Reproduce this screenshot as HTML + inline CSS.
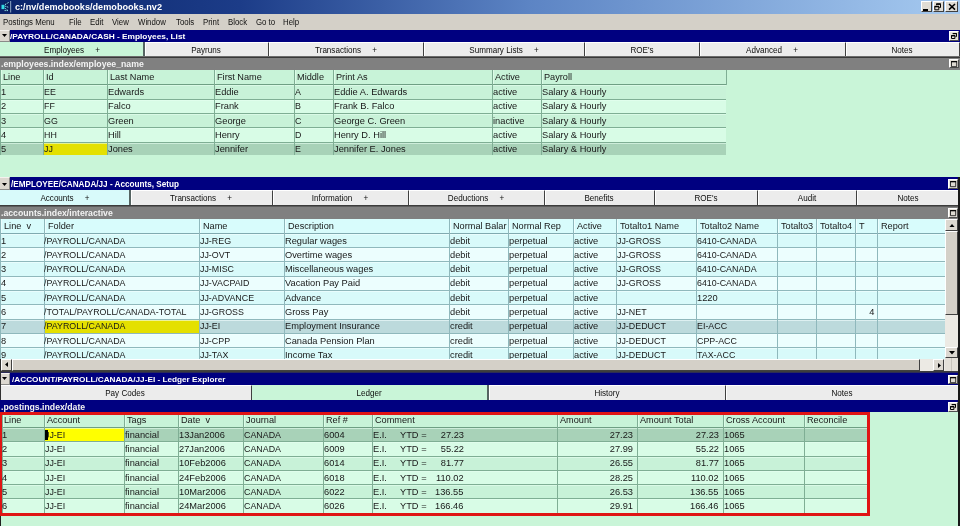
<!DOCTYPE html><html><head><meta charset="utf-8"><title>demobooks</title><style>
*{margin:0;padding:0;box-sizing:border-box}
html,body{width:960px;height:526px;overflow:hidden;background:#c9f5d8;font-family:"Liberation Sans",sans-serif;color:#181818}
div{position:absolute;overflow:hidden}
i{position:absolute;font-style:normal;white-space:pre;line-height:1;display:block}
.wb{background:#d4d0c8;border-top:1px solid #fff;border-left:1px solid #fff;border-right:1px solid #404040;border-bottom:1px solid #404040}
.t-title{font-size:8.7px;font-weight:bold;transform:scaleX(1.05);transform-origin:0 0}
.t-title.rt{transform-origin:100% 0}
.t-title.ct{transform-origin:50% 0}
.t-menu{font-size:9.6px;font-weight:normal;transform:scaleX(0.815);transform-origin:0 0}
.t-menu.rt{transform-origin:100% 0}
.t-menu.ct{transform-origin:50% 0}
.t-nav{font-size:7.9px;font-weight:bold;transform:scaleX(1.04);transform-origin:0 0}
.t-nav.rt{transform-origin:100% 0}
.t-nav.ct{transform-origin:50% 0}
.t-idx{font-size:8.8px;font-weight:bold;transform:scaleX(0.99);transform-origin:0 0}
.t-idx.rt{transform-origin:100% 0}
.t-idx.ct{transform-origin:50% 0}
.t-tab{font-size:8.6px;font-weight:normal;transform:scaleX(0.94);transform-origin:0 0}
.t-tab.rt{transform-origin:100% 0}
.t-tab.ct{transform-origin:50% 0}
.t-cell{font-size:9.6px;font-weight:normal;transform:scaleX(0.967);transform-origin:0 0}
.t-cell.rt{transform-origin:100% 0}
.t-cell.ct{transform-origin:50% 0}
.t-caps{font-size:9.6px;font-weight:normal;transform:scaleX(0.925);transform-origin:0 0}
.t-caps.rt{transform-origin:100% 0}
.t-caps.ct{transform-origin:50% 0}
.t-hdr{font-size:9.6px;font-weight:normal;transform:scaleX(0.955);transform-origin:0 0}
.t-hdr.rt{transform-origin:100% 0}
.t-hdr.ct{transform-origin:50% 0}
</style></head><body><div id="root" style="left:0;top:0;width:960px;height:526px;will-change:transform">
<div style="left:0;top:0;width:960px;height:14px;background:linear-gradient(90deg,#0a246a 0%,#1c3c88 25%,#5c84c4 55%,#a6caf0 100%)"></div>
<svg style="position:absolute;left:0px;top:0px" width="13" height="14" viewBox="0 0 13 14"><rect x="4.4" y="2" width="5.4" height="9.6" fill="#0a1c58"/><rect x="1.5" y="4.8" width="3" height="4.3" fill="#34dce4"/><path d="M5 4.6L9 2.2M5.2 6.2l3.6 1.2M5.2 8.4l3.2 2.4M4.6 10.6h4" stroke="#9af4f4" stroke-width="1" fill="none" stroke-dasharray="1.2 0.8"/><path d="M10.6 1.4v10.8" stroke="#e8ffff" stroke-width="1.2" stroke-dasharray="1 1" fill="none"/></svg>
<i class="t-title" style="top:3.44px;left:15px;color:#fff;">c:/nv/demobooks/demobooks.nv2</i>
<div class="wb" style="left:921px;top:1px;width:11px;height:11px;background:#e0dcd4"></div>
<div class="wb" style="left:933px;top:1px;width:11px;height:11px;background:#e0dcd4"></div>
<div class="wb" style="left:945px;top:1px;width:13px;height:11px;background:#e0dcd4"></div>
<div style="left:923px;top:9px;width:5px;height:1.5px;background:#000"></div>
<svg style="position:absolute;left:934px;top:3px" width="8" height="8" viewBox="0 0 8 8"><path d="M2.5 1.2h4v3.3h-1.2M2.5 1.2v1" stroke="#000" stroke-width="1" fill="none"/><path d="M2.2 1h4.6" stroke="#000" stroke-width="1.4"/><path d="M0.8 3.6h4v3.2h-4z" stroke="#000" stroke-width="1" fill="none"/><path d="M0.5 3.5h4.6" stroke="#000" stroke-width="1.4"/></svg>
<svg style="position:absolute;left:948px;top:3px" width="8" height="8" viewBox="0 0 8 8"><path d="M1 1l6 5.6M7 1l-6 5.6" stroke="#000" stroke-width="1.5" fill="none"/></svg>
<div style="left:0;top:14px;width:960px;height:16px;background:#d4d0c8"></div>
<i class="t-menu" style="top:17.07px;left:3.4px;color:#111;">Postings Menu</i>
<i class="t-menu" style="top:17.07px;left:69px;color:#111;">File</i>
<i class="t-menu" style="top:17.07px;left:89.5px;color:#111;">Edit</i>
<i class="t-menu" style="top:17.07px;left:112px;color:#111;">View</i>
<i class="t-menu" style="top:17.07px;left:138px;color:#111;">Window</i>
<i class="t-menu" style="top:17.07px;left:176px;color:#111;">Tools</i>
<i class="t-menu" style="top:17.07px;left:202.5px;color:#111;">Print</i>
<i class="t-menu" style="top:17.07px;left:228px;color:#111;">Block</i>
<i class="t-menu" style="top:17.07px;left:256px;color:#111;">Go to</i>
<i class="t-menu" style="top:17.07px;left:283px;color:#111;">Help</i>
<div style="left:0;top:30px;width:960px;height:12px;background:#000080"></div>
<div style="left:0;top:30px;width:9.5px;height:12px;background:#dcd8d0;border-top:1px solid #f4f2ee;border-right:1px solid #8a8a88;border-bottom:1px solid #8a8a88"></div>
<svg style="position:absolute;left:2px;top:34px" width="5" height="3" viewBox="0 0 5 3"><path d="M0 0h5l-2.5 3z" fill="#000"/></svg>
<i class="t-nav" style="top:32.91px;left:9.6px;color:#fff;transform:scaleX(1.052);">/PAYROLL/CANADA/CASH - Employees, List</i>
<div class="wb" style="left:949px;top:31px;width:10px;height:10px;background:#e6e2da;border-right-color:#505050;border-bottom-color:#505050"></div>
<svg style="position:absolute;left:951px;top:33px" width="6" height="6" viewBox="0 0 6 6"><path d="M2 0.6h3.5v3h-1" stroke="#000" stroke-width="1" fill="none"/><path d="M1.6 0.5h4.2" stroke="#000" stroke-width="1.2"/><path d="M0.5 2.8h3.4v2.7h-3.4z" stroke="#000" stroke-width="1" fill="none"/><path d="M0.2 2.6h4" stroke="#000" stroke-width="1.2"/></svg>
<div style="left:0px;top:42px;width:145px;height:15px;background:#c9f5d8;border-right:2px solid #566462"></div>
<i class="t-tab ct" style="top:45.72px;left:-78.4px;width:300px;text-align:center;color:#0c0c0c;">Employees     +</i>
<div style="left:145px;top:42px;width:124px;height:15px;background:#ececec;border-top:1px solid #fff;border-left:1px solid #fff;border-right:1px solid #404040"></div>
<i class="t-tab ct" style="top:45.72px;left:56.099999999999994px;width:300px;text-align:center;color:#0c0c0c;">Payruns</i>
<div style="left:269px;top:42px;width:155px;height:15px;background:#ececec;border-top:1px solid #fff;border-left:1px solid #fff;border-right:1px solid #404040"></div>
<i class="t-tab ct" style="top:45.72px;left:195.60000000000002px;width:300px;text-align:center;color:#0c0c0c;">Transactions     +</i>
<div style="left:424px;top:42px;width:161px;height:15px;background:#ececec;border-top:1px solid #fff;border-left:1px solid #fff;border-right:1px solid #404040"></div>
<i class="t-tab ct" style="top:45.72px;left:353.6px;width:300px;text-align:center;color:#0c0c0c;">Summary Lists     +</i>
<div style="left:585px;top:42px;width:115px;height:15px;background:#ececec;border-top:1px solid #fff;border-left:1px solid #fff;border-right:1px solid #404040"></div>
<i class="t-tab ct" style="top:45.72px;left:491.6px;width:300px;text-align:center;color:#0c0c0c;">ROE's</i>
<div style="left:700px;top:42px;width:146px;height:15px;background:#ececec;border-top:1px solid #fff;border-left:1px solid #fff;border-right:1px solid #404040"></div>
<i class="t-tab ct" style="top:45.72px;left:622.1px;width:300px;text-align:center;color:#0c0c0c;">Advanced     +</i>
<div style="left:846px;top:42px;width:114px;height:15px;background:#ececec;border-top:1px solid #fff;border-left:1px solid #fff;border-right:1px solid #404040"></div>
<i class="t-tab ct" style="top:45.72px;left:752.1px;width:300px;text-align:center;color:#0c0c0c;">Notes</i>
<div style="left:0;top:56px;width:960px;height:14px;background:#808080"></div>
<div style="left:0;top:56px;width:960px;height:1px;background:#6c6c6c"></div>
<div style="left:0;top:57px;width:960px;height:1px;background:#383838"></div>
<i class="t-idx" style="top:59.95px;left:0.6px;color:#f2f2f2;">.employees.index/employee_name</i>
<div class="wb" style="left:949px;top:59px;width:10px;height:9px;background:#e6e2da;border-right-color:#505050;border-bottom-color:#505050"></div>
<svg style="position:absolute;left:950.5px;top:60.5px" width="7" height="7" viewBox="0 0 7 7"><path d="M0.5 0.5h5.2v5.2h-5.2z" stroke="#111" stroke-width="0.85" fill="#dedad2"/><path d="M0.1 0.7h6" stroke="#000" stroke-width="1.2"/></svg>
<div style="left:0px;top:70px;width:726px;height:14.3px;background:#c8f3d8"></div>
<div style="left:0px;top:84px;width:726px;height:15px;background:#c8f2d8"></div>
<div style="left:0px;top:99px;width:726px;height:14px;background:#d8fce6"></div>
<div style="left:0px;top:113px;width:726px;height:14px;background:#c8f2d8"></div>
<div style="left:0px;top:127px;width:726px;height:15px;background:#d8fce6"></div>
<div style="left:0px;top:142px;width:726px;height:13px;background:#a8d2b8"></div>
<div style="left:43px;top:142px;width:64px;height:13px;background:#e4e000"></div>
<div style="left:0px;top:84px;width:726px;height:1px;background:#6f9f84"></div>
<div style="left:0px;top:85px;width:726px;height:1px;background:#e6fff0;opacity:.6"></div>
<div style="left:0px;top:99px;width:726px;height:1px;background:#7fae94"></div>
<div style="left:0px;top:100px;width:726px;height:1px;background:#e6fff0;opacity:.6"></div>
<div style="left:0px;top:113px;width:726px;height:1px;background:#7fae94"></div>
<div style="left:0px;top:114px;width:726px;height:1px;background:#e6fff0;opacity:.6"></div>
<div style="left:0px;top:127px;width:726px;height:1px;background:#7fae94"></div>
<div style="left:0px;top:128px;width:726px;height:1px;background:#e6fff0;opacity:.6"></div>
<div style="left:0px;top:142px;width:726px;height:1px;background:#7fae94"></div>
<div style="left:0px;top:143px;width:726px;height:1px;background:#e6fff0;opacity:.6"></div>
<div style="left:0px;top:70px;width:1px;height:85px;background:#7fae94"></div>
<div style="left:1px;top:70px;width:1px;height:14.3px;background:#e6fff0;opacity:.7"></div>
<div style="left:43px;top:70px;width:1px;height:85px;background:#7fae94"></div>
<div style="left:44px;top:70px;width:1px;height:14.3px;background:#e6fff0;opacity:.7"></div>
<div style="left:107px;top:70px;width:1px;height:85px;background:#7fae94"></div>
<div style="left:108px;top:70px;width:1px;height:14.3px;background:#e6fff0;opacity:.7"></div>
<div style="left:214px;top:70px;width:1px;height:85px;background:#7fae94"></div>
<div style="left:215px;top:70px;width:1px;height:14.3px;background:#e6fff0;opacity:.7"></div>
<div style="left:294px;top:70px;width:1px;height:85px;background:#7fae94"></div>
<div style="left:295px;top:70px;width:1px;height:14.3px;background:#e6fff0;opacity:.7"></div>
<div style="left:333px;top:70px;width:1px;height:85px;background:#7fae94"></div>
<div style="left:334px;top:70px;width:1px;height:14.3px;background:#e6fff0;opacity:.7"></div>
<div style="left:492px;top:70px;width:1px;height:85px;background:#7fae94"></div>
<div style="left:493px;top:70px;width:1px;height:14.3px;background:#e6fff0;opacity:.7"></div>
<div style="left:541px;top:70px;width:1px;height:85px;background:#7fae94"></div>
<div style="left:542px;top:70px;width:1px;height:14.3px;background:#e6fff0;opacity:.7"></div>
<div style="left:726px;top:70px;width:1px;height:15px;background:#7fae94"></div>
<i class="t-hdr" style="top:71.57px;left:3.3px;">Line</i>
<i class="t-hdr" style="top:71.57px;left:46.3px;">Id</i>
<i class="t-hdr" style="top:71.57px;left:110.3px;">Last Name</i>
<i class="t-hdr" style="top:71.57px;left:217.3px;">First Name</i>
<i class="t-hdr" style="top:71.57px;left:297.3px;">Middle</i>
<i class="t-hdr" style="top:71.57px;left:336.3px;">Print As</i>
<i class="t-hdr" style="top:71.57px;left:495.3px;">Active</i>
<i class="t-hdr" style="top:71.57px;left:544.3px;">Payroll</i>
<i class="t-cell" style="top:87.07px;left:1.2px;">1</i>
<i class="t-caps" style="top:87.07px;left:43.8px;">EE</i>
<i class="t-cell" style="top:87.07px;left:107.8px;">Edwards</i>
<i class="t-cell" style="top:87.07px;left:214.8px;">Eddie</i>
<i class="t-caps" style="top:87.07px;left:294.8px;">A</i>
<i class="t-cell" style="top:87.07px;left:333.8px;">Eddie A. Edwards</i>
<i class="t-cell" style="top:87.07px;left:492.8px;">active</i>
<i class="t-cell" style="top:87.07px;left:541.8px;">Salary &amp; Hourly</i>
<i class="t-cell" style="top:101.37px;left:1.2px;">2</i>
<i class="t-caps" style="top:101.37px;left:43.8px;">FF</i>
<i class="t-cell" style="top:101.37px;left:107.8px;">Falco</i>
<i class="t-cell" style="top:101.37px;left:214.8px;">Frank</i>
<i class="t-caps" style="top:101.37px;left:294.8px;">B</i>
<i class="t-cell" style="top:101.37px;left:333.8px;">Frank B. Falco</i>
<i class="t-cell" style="top:101.37px;left:492.8px;">active</i>
<i class="t-cell" style="top:101.37px;left:541.8px;">Salary &amp; Hourly</i>
<i class="t-cell" style="top:115.67px;left:1.2px;">3</i>
<i class="t-caps" style="top:115.67px;left:43.8px;">GG</i>
<i class="t-cell" style="top:115.67px;left:107.8px;">Green</i>
<i class="t-cell" style="top:115.67px;left:214.8px;">George</i>
<i class="t-caps" style="top:115.67px;left:294.8px;">C</i>
<i class="t-cell" style="top:115.67px;left:333.8px;">George C. Green</i>
<i class="t-cell" style="top:115.67px;left:492.8px;">inactive</i>
<i class="t-cell" style="top:115.67px;left:541.8px;">Salary &amp; Hourly</i>
<i class="t-cell" style="top:129.97px;left:1.2px;">4</i>
<i class="t-caps" style="top:129.97px;left:43.8px;">HH</i>
<i class="t-cell" style="top:129.97px;left:107.8px;">Hill</i>
<i class="t-cell" style="top:129.97px;left:214.8px;">Henry</i>
<i class="t-caps" style="top:129.97px;left:294.8px;">D</i>
<i class="t-cell" style="top:129.97px;left:333.8px;">Henry D. Hill</i>
<i class="t-cell" style="top:129.97px;left:492.8px;">active</i>
<i class="t-cell" style="top:129.97px;left:541.8px;">Salary &amp; Hourly</i>
<i class="t-cell" style="top:144.27px;left:1.2px;">5</i>
<i class="t-caps" style="top:144.27px;left:43.7px;">JJ</i>
<i class="t-cell" style="top:144.27px;left:107.7px;">Jones</i>
<i class="t-cell" style="top:144.27px;left:214.7px;">Jennifer</i>
<i class="t-caps" style="top:144.27px;left:294.8px;">E</i>
<i class="t-cell" style="top:144.27px;left:333.7px;">Jennifer E. Jones</i>
<i class="t-cell" style="top:144.27px;left:492.8px;">active</i>
<i class="t-cell" style="top:144.27px;left:541.8px;">Salary &amp; Hourly</i>
<div style="left:0;top:177px;width:960px;height:182px;background:#d8fafa"></div>
<div style="left:0;top:177px;width:960px;height:13px;background:#000080"></div>
<div style="left:0;top:177px;width:9.5px;height:13px;background:#dcd8d0;border-top:1px solid #f4f2ee;border-right:1px solid #8a8a88;border-bottom:1px solid #8a8a88"></div>
<svg style="position:absolute;left:2px;top:182.5px" width="5" height="3" viewBox="0 0 5 3"><path d="M0 0h5l-2.5 3z" fill="#000"/></svg>
<i class="t-nav" style="top:180.34px;left:10.6px;color:#fff;transform:scaleX(0.94);font-size:8.7px;">/EMPLOYEE/CANADA/JJ - Accounts, Setup</i>
<div class="wb" style="left:948px;top:179px;width:10px;height:10px;background:#e6e2da;border-right-color:#505050;border-bottom-color:#505050"></div>
<svg style="position:absolute;left:949.5px;top:180.5px" width="7" height="7" viewBox="0 0 7 7"><path d="M0.5 0.5h5.2v5.2h-5.2z" stroke="#111" stroke-width="0.85" fill="#dedad2"/><path d="M0.1 0.7h6" stroke="#000" stroke-width="1.2"/></svg>
<div style="left:0px;top:190px;width:131px;height:15px;background:#d8fafa;border-right:2px solid #566462"></div>
<i class="t-tab ct" style="top:194.12px;left:-85.4px;width:300px;text-align:center;color:#0c0c0c;">Accounts     +</i>
<div style="left:131px;top:190px;width:142px;height:15px;background:#ececec;border-top:1px solid #fff;border-left:1px solid #fff;border-right:1px solid #404040"></div>
<i class="t-tab ct" style="top:194.12px;left:51.099999999999994px;width:300px;text-align:center;color:#0c0c0c;">Transactions     +</i>
<div style="left:273px;top:190px;width:136px;height:15px;background:#ececec;border-top:1px solid #fff;border-left:1px solid #fff;border-right:1px solid #404040"></div>
<i class="t-tab ct" style="top:194.12px;left:190.10000000000002px;width:300px;text-align:center;color:#0c0c0c;">Information     +</i>
<div style="left:409px;top:190px;width:136px;height:15px;background:#ececec;border-top:1px solid #fff;border-left:1px solid #fff;border-right:1px solid #404040"></div>
<i class="t-tab ct" style="top:194.12px;left:326.1px;width:300px;text-align:center;color:#0c0c0c;">Deductions     +</i>
<div style="left:545px;top:190px;width:110px;height:15px;background:#ececec;border-top:1px solid #fff;border-left:1px solid #fff;border-right:1px solid #404040"></div>
<i class="t-tab ct" style="top:194.12px;left:449.1px;width:300px;text-align:center;color:#0c0c0c;">Benefits</i>
<div style="left:655px;top:190px;width:103px;height:15px;background:#ececec;border-top:1px solid #fff;border-left:1px solid #fff;border-right:1px solid #404040"></div>
<i class="t-tab ct" style="top:194.12px;left:555.6px;width:300px;text-align:center;color:#0c0c0c;">ROE's</i>
<div style="left:758px;top:190px;width:99px;height:15px;background:#ececec;border-top:1px solid #fff;border-left:1px solid #fff;border-right:1px solid #404040"></div>
<i class="t-tab ct" style="top:194.12px;left:656.6px;width:300px;text-align:center;color:#0c0c0c;">Audit</i>
<div style="left:857px;top:190px;width:103px;height:15px;background:#ececec;border-top:1px solid #fff;border-left:1px solid #fff;border-right:1px solid #404040"></div>
<i class="t-tab ct" style="top:194.12px;left:757.6px;width:300px;text-align:center;color:#0c0c0c;">Notes</i>
<div style="left:0;top:205px;width:960px;height:14px;background:#808080"></div>
<div style="left:0;top:205px;width:960px;height:1px;background:#3c3c3c"></div>
<div style="left:0;top:206px;width:960px;height:1px;background:#5c5c5c"></div>
<i class="t-idx" style="top:208.55px;left:0.6px;color:#f2f2f2;">.accounts.index/interactive</i>
<div class="wb" style="left:948px;top:208px;width:10px;height:10px;background:#e6e2da;border-right-color:#505050;border-bottom-color:#505050"></div>
<svg style="position:absolute;left:949.5px;top:209.5px" width="7" height="7" viewBox="0 0 7 7"><path d="M0.5 0.5h5.2v5.2h-5.2z" stroke="#111" stroke-width="0.85" fill="#dedad2"/><path d="M0.1 0.7h6" stroke="#000" stroke-width="1.2"/></svg>
<div style="left:0px;top:219px;width:945px;height:13.8px;background:#d8fcfc"></div>
<div style="left:0px;top:233px;width:945px;height:14px;background:#d8fafa"></div>
<div style="left:0px;top:247px;width:945px;height:14px;background:#ecfefe"></div>
<div style="left:0px;top:261px;width:945px;height:15px;background:#d8fafa"></div>
<div style="left:0px;top:276px;width:945px;height:14px;background:#ecfefe"></div>
<div style="left:0px;top:290px;width:945px;height:14px;background:#d8fafa"></div>
<div style="left:0px;top:304px;width:945px;height:15px;background:#ecfefe"></div>
<div style="left:0px;top:319px;width:945px;height:14px;background:#bcdadc"></div>
<div style="left:44px;top:319px;width:155px;height:14px;background:#e4e000"></div>
<div style="left:0px;top:333px;width:945px;height:14px;background:#ecfefe"></div>
<div style="left:0px;top:347px;width:945px;height:12px;background:#d8fafa"></div>
<div style="left:0px;top:233px;width:945px;height:1px;background:#80aab0"></div>
<div style="left:0px;top:234px;width:945px;height:1px;background:#f4ffff;opacity:.6"></div>
<div style="left:0px;top:247px;width:945px;height:1px;background:#8fb8bc"></div>
<div style="left:0px;top:248px;width:945px;height:1px;background:#f4ffff;opacity:.6"></div>
<div style="left:0px;top:261px;width:945px;height:1px;background:#8fb8bc"></div>
<div style="left:0px;top:262px;width:945px;height:1px;background:#f4ffff;opacity:.6"></div>
<div style="left:0px;top:276px;width:945px;height:1px;background:#8fb8bc"></div>
<div style="left:0px;top:277px;width:945px;height:1px;background:#f4ffff;opacity:.6"></div>
<div style="left:0px;top:290px;width:945px;height:1px;background:#8fb8bc"></div>
<div style="left:0px;top:291px;width:945px;height:1px;background:#f4ffff;opacity:.6"></div>
<div style="left:0px;top:304px;width:945px;height:1px;background:#8fb8bc"></div>
<div style="left:0px;top:305px;width:945px;height:1px;background:#f4ffff;opacity:.6"></div>
<div style="left:0px;top:319px;width:945px;height:1px;background:#8fb8bc"></div>
<div style="left:0px;top:320px;width:945px;height:1px;background:#f4ffff;opacity:.6"></div>
<div style="left:0px;top:333px;width:945px;height:1px;background:#8fb8bc"></div>
<div style="left:0px;top:334px;width:945px;height:1px;background:#f4ffff;opacity:.6"></div>
<div style="left:0px;top:347px;width:945px;height:1px;background:#8fb8bc"></div>
<div style="left:0px;top:348px;width:945px;height:1px;background:#f4ffff;opacity:.6"></div>
<div style="left:0px;top:219px;width:1px;height:140px;background:#8fb8bc"></div>
<div style="left:1px;top:219px;width:1px;height:13.8px;background:#f4ffff;opacity:.7"></div>
<div style="left:44px;top:219px;width:1px;height:140px;background:#8fb8bc"></div>
<div style="left:45px;top:219px;width:1px;height:13.8px;background:#f4ffff;opacity:.7"></div>
<div style="left:199px;top:219px;width:1px;height:140px;background:#8fb8bc"></div>
<div style="left:200px;top:219px;width:1px;height:13.8px;background:#f4ffff;opacity:.7"></div>
<div style="left:284px;top:219px;width:1px;height:140px;background:#8fb8bc"></div>
<div style="left:285px;top:219px;width:1px;height:13.8px;background:#f4ffff;opacity:.7"></div>
<div style="left:449px;top:219px;width:1px;height:140px;background:#8fb8bc"></div>
<div style="left:450px;top:219px;width:1px;height:13.8px;background:#f4ffff;opacity:.7"></div>
<div style="left:508px;top:219px;width:1px;height:140px;background:#8fb8bc"></div>
<div style="left:509px;top:219px;width:1px;height:13.8px;background:#f4ffff;opacity:.7"></div>
<div style="left:573px;top:219px;width:1px;height:140px;background:#8fb8bc"></div>
<div style="left:574px;top:219px;width:1px;height:13.8px;background:#f4ffff;opacity:.7"></div>
<div style="left:616px;top:219px;width:1px;height:140px;background:#8fb8bc"></div>
<div style="left:617px;top:219px;width:1px;height:13.8px;background:#f4ffff;opacity:.7"></div>
<div style="left:696px;top:219px;width:1px;height:140px;background:#8fb8bc"></div>
<div style="left:697px;top:219px;width:1px;height:13.8px;background:#f4ffff;opacity:.7"></div>
<div style="left:777px;top:219px;width:1px;height:140px;background:#8fb8bc"></div>
<div style="left:778px;top:219px;width:1px;height:13.8px;background:#f4ffff;opacity:.7"></div>
<div style="left:816px;top:219px;width:1px;height:140px;background:#8fb8bc"></div>
<div style="left:817px;top:219px;width:1px;height:13.8px;background:#f4ffff;opacity:.7"></div>
<div style="left:855px;top:219px;width:1px;height:140px;background:#8fb8bc"></div>
<div style="left:856px;top:219px;width:1px;height:13.8px;background:#f4ffff;opacity:.7"></div>
<div style="left:877px;top:219px;width:1px;height:140px;background:#8fb8bc"></div>
<div style="left:878px;top:219px;width:1px;height:13.8px;background:#f4ffff;opacity:.7"></div>
<div style="left:945px;top:219px;width:1px;height:15px;background:#8fb8bc"></div>
<i class="t-hdr" style="top:220.77px;left:3.6px;">Line  v</i>
<i class="t-hdr" style="top:220.77px;left:47.6px;">Folder</i>
<i class="t-hdr" style="top:220.77px;left:202.6px;">Name</i>
<i class="t-hdr" style="top:220.77px;left:287.6px;">Description</i>
<i class="t-hdr" style="top:220.77px;left:452.6px;">Normal Balar</i>
<i class="t-hdr" style="top:220.77px;left:511.6px;">Normal Rep</i>
<i class="t-hdr" style="top:220.77px;left:576.6px;">Active</i>
<i class="t-hdr" style="top:220.77px;left:619.6px;">Totalto1 Name</i>
<i class="t-hdr" style="top:220.77px;left:699.6px;">Totalto2 Name</i>
<i class="t-hdr" style="top:220.77px;left:780.6px;">Totalto3</i>
<i class="t-hdr" style="top:220.77px;left:819.6px;">Totalto4</i>
<i class="t-hdr" style="top:220.77px;left:858.6px;">T</i>
<i class="t-hdr" style="top:220.77px;left:880.6px;">Report</i>
<i class="t-cell" style="top:235.57px;left:1.2px;">1</i>
<i class="t-caps" style="top:235.57px;left:44.2px;">/PAYROLL/CANADA</i>
<i class="t-caps" style="top:235.57px;left:199.7px;">JJ-REG</i>
<i class="t-cell" style="top:235.57px;left:284.8px;">Regular wages</i>
<i class="t-cell" style="top:235.57px;left:449.8px;">debit</i>
<i class="t-cell" style="top:235.57px;left:508.8px;">perpetual</i>
<i class="t-cell" style="top:235.57px;left:573.8px;">active</i>
<i class="t-caps" style="top:235.57px;left:616.7px;">JJ-GROSS</i>
<i class="t-caps" style="top:235.57px;left:697.2px;">6410-CANADA</i>
<i class="t-cell" style="top:249.87px;left:1.2px;">2</i>
<i class="t-caps" style="top:249.87px;left:44.2px;">/PAYROLL/CANADA</i>
<i class="t-caps" style="top:249.87px;left:199.7px;">JJ-OVT</i>
<i class="t-cell" style="top:249.87px;left:284.8px;">Overtime wages</i>
<i class="t-cell" style="top:249.87px;left:449.8px;">debit</i>
<i class="t-cell" style="top:249.87px;left:508.8px;">perpetual</i>
<i class="t-cell" style="top:249.87px;left:573.8px;">active</i>
<i class="t-caps" style="top:249.87px;left:616.7px;">JJ-GROSS</i>
<i class="t-caps" style="top:249.87px;left:697.2px;">6410-CANADA</i>
<i class="t-cell" style="top:264.17px;left:1.2px;">3</i>
<i class="t-caps" style="top:264.17px;left:44.2px;">/PAYROLL/CANADA</i>
<i class="t-caps" style="top:264.17px;left:199.7px;">JJ-MISC</i>
<i class="t-cell" style="top:264.17px;left:284.8px;">Miscellaneous wages</i>
<i class="t-cell" style="top:264.17px;left:449.8px;">debit</i>
<i class="t-cell" style="top:264.17px;left:508.8px;">perpetual</i>
<i class="t-cell" style="top:264.17px;left:573.8px;">active</i>
<i class="t-caps" style="top:264.17px;left:616.7px;">JJ-GROSS</i>
<i class="t-caps" style="top:264.17px;left:697.2px;">6410-CANADA</i>
<i class="t-cell" style="top:278.47px;left:1.2px;">4</i>
<i class="t-caps" style="top:278.47px;left:44.2px;">/PAYROLL/CANADA</i>
<i class="t-caps" style="top:278.47px;left:199.7px;">JJ-VACPAID</i>
<i class="t-cell" style="top:278.47px;left:284.8px;">Vacation Pay Paid</i>
<i class="t-cell" style="top:278.47px;left:449.8px;">debit</i>
<i class="t-cell" style="top:278.47px;left:508.8px;">perpetual</i>
<i class="t-cell" style="top:278.47px;left:573.8px;">active</i>
<i class="t-caps" style="top:278.47px;left:616.7px;">JJ-GROSS</i>
<i class="t-caps" style="top:278.47px;left:697.2px;">6410-CANADA</i>
<i class="t-cell" style="top:292.77px;left:1.2px;">5</i>
<i class="t-caps" style="top:292.77px;left:44.2px;">/PAYROLL/CANADA</i>
<i class="t-caps" style="top:292.77px;left:199.7px;">JJ-ADVANCE</i>
<i class="t-cell" style="top:292.77px;left:284.8px;">Advance</i>
<i class="t-cell" style="top:292.77px;left:449.8px;">debit</i>
<i class="t-cell" style="top:292.77px;left:508.8px;">perpetual</i>
<i class="t-cell" style="top:292.77px;left:573.8px;">active</i>
<i class="t-cell" style="top:292.77px;left:697.2px;">1220</i>
<i class="t-cell" style="top:307.07px;left:1.2px;">6</i>
<i class="t-caps" style="top:307.07px;left:44.2px;">/TOTAL/PAYROLL/CANADA-TOTAL</i>
<i class="t-caps" style="top:307.07px;left:199.7px;">JJ-GROSS</i>
<i class="t-cell" style="top:307.07px;left:284.8px;">Gross Pay</i>
<i class="t-cell" style="top:307.07px;left:449.8px;">debit</i>
<i class="t-cell" style="top:307.07px;left:508.8px;">perpetual</i>
<i class="t-cell" style="top:307.07px;left:573.8px;">active</i>
<i class="t-caps" style="top:307.07px;left:616.7px;">JJ-NET</i>
<i class="t-cell rt" style="top:307.07px;right:86px;">4</i>
<i class="t-cell" style="top:321.37px;left:1.2px;">7</i>
<i class="t-caps" style="top:321.37px;left:44.2px;">/PAYROLL/CANADA</i>
<i class="t-caps" style="top:321.37px;left:199.7px;">JJ-EI</i>
<i class="t-cell" style="top:321.37px;left:284.8px;">Employment Insurance</i>
<i class="t-cell" style="top:321.37px;left:449.8px;">credit</i>
<i class="t-cell" style="top:321.37px;left:508.8px;">perpetual</i>
<i class="t-cell" style="top:321.37px;left:573.8px;">active</i>
<i class="t-caps" style="top:321.37px;left:616.7px;">JJ-DEDUCT</i>
<i class="t-caps" style="top:321.37px;left:696.8px;">EI-ACC</i>
<i class="t-cell" style="top:335.67px;left:1.2px;">8</i>
<i class="t-caps" style="top:335.67px;left:44.2px;">/PAYROLL/CANADA</i>
<i class="t-caps" style="top:335.67px;left:199.7px;">JJ-CPP</i>
<i class="t-cell" style="top:335.67px;left:284.8px;">Canada Pension Plan</i>
<i class="t-cell" style="top:335.67px;left:449.8px;">credit</i>
<i class="t-cell" style="top:335.67px;left:508.8px;">perpetual</i>
<i class="t-cell" style="top:335.67px;left:573.8px;">active</i>
<i class="t-caps" style="top:335.67px;left:616.7px;">JJ-DEDUCT</i>
<i class="t-caps" style="top:335.67px;left:696.8px;">CPP-ACC</i>
<i class="t-cell" style="top:349.97px;left:1.2px;">9</i>
<i class="t-caps" style="top:349.97px;left:44.2px;">/PAYROLL/CANADA</i>
<i class="t-caps" style="top:349.97px;left:199.7px;">JJ-TAX</i>
<i class="t-cell" style="top:349.97px;left:284.8px;">Income Tax</i>
<i class="t-cell" style="top:349.97px;left:449.8px;">credit</i>
<i class="t-cell" style="top:349.97px;left:508.8px;">perpetual</i>
<i class="t-cell" style="top:349.97px;left:573.8px;">active</i>
<i class="t-caps" style="top:349.97px;left:616.7px;">JJ-DEDUCT</i>
<i class="t-caps" style="top:349.97px;left:696.8px;">TAX-ACC</i>
<div style="left:945px;top:219px;width:13px;height:140px;background:#eceae4"></div>
<div class="wb" style="left:945px;top:219px;width:13px;height:12px;background:#dcd8d0"></div>
<svg style="position:absolute;left:948.5px;top:223.5px" width="6" height="3.5" viewBox="0 0 6 3.5"><path d="M0 3.5h6l-3-3.5z" fill="#000"/></svg>
<div class="wb" style="left:945px;top:231px;width:13px;height:84px"></div>
<div class="wb" style="left:945px;top:347px;width:13px;height:11px;background:#dcd8d0"></div>
<svg style="position:absolute;left:948.5px;top:351px" width="6" height="3.5" viewBox="0 0 6 3.5"><path d="M0 0h6l-3 3.5z" fill="#000"/></svg>
<div style="left:0;top:359px;width:958px;height:12px;background:#eceae4"></div>
<div class="wb" style="left:1px;top:359px;width:11px;height:12px;background:#dcd8d0"></div>
<svg style="position:absolute;left:4.5px;top:362px" width="3" height="5" viewBox="0 0 3 5"><path d="M3 0v5l-3-2.5z" fill="#000"/></svg>
<div class="wb" style="left:12px;top:359px;width:908px;height:12px"></div>
<div class="wb" style="left:933px;top:359px;width:11px;height:12px;background:#dcd8d0"></div>
<svg style="position:absolute;left:937.5px;top:363px" width="3" height="5" viewBox="0 0 3 5"><path d="M0 0v5l3-2.5z" fill="#000"/></svg>
<div style="left:945px;top:358px;width:13px;height:13px;background:#e4e0d8"></div>
<div style="left:951px;top:358px;width:1px;height:13px;background:#c8c4bc"></div>
<div style="left:0;top:371px;width:960px;height:1px;background:#3c3c3c"></div>
<div style="left:0;top:372px;width:960px;height:1px;background:#2c2c58"></div>
<div style="left:0;top:373px;width:960px;height:12px;background:#000080"></div>
<div style="left:0;top:373px;width:9.5px;height:12px;background:#dcd8d0;border-top:1px solid #f4f2ee;border-right:1px solid #8a8a88;border-bottom:1px solid #8a8a88"></div>
<svg style="position:absolute;left:2px;top:377px" width="5" height="3" viewBox="0 0 5 3"><path d="M0 0h5l-2.5 3z" fill="#000"/></svg>
<i class="t-nav" style="top:376.11px;left:11.6px;color:#fff;transform:scaleX(1.04);">/ACCOUNT/PAYROLL/CANADA/JJ-EI - Ledger Explorer</i>
<div class="wb" style="left:948px;top:375px;width:10px;height:9px;background:#e6e2da;border-right-color:#505050;border-bottom-color:#505050"></div>
<svg style="position:absolute;left:949.5px;top:376.5px" width="7" height="7" viewBox="0 0 7 7"><path d="M0.5 0.5h5.2v5.2h-5.2z" stroke="#111" stroke-width="0.85" fill="#dedad2"/><path d="M0.1 0.7h6" stroke="#000" stroke-width="1.2"/></svg>
<div style="left:0px;top:385px;width:252px;height:15px;background:#ececec;border-top:1px solid #fff;border-left:1px solid #fff;border-right:1px solid #404040"></div>
<i class="t-tab ct" style="top:388.92px;left:-24.900000000000006px;width:300px;text-align:center;color:#0c0c0c;">Pay Codes</i>
<div style="left:252px;top:385px;width:237px;height:15px;background:#c9f5d8;border-right:2px solid #566462"></div>
<i class="t-tab ct" style="top:388.92px;left:219.20000000000005px;width:300px;text-align:center;color:#0c0c0c;">Ledger</i>
<div style="left:489px;top:385px;width:237px;height:15px;background:#ececec;border-top:1px solid #fff;border-left:1px solid #fff;border-right:1px solid #404040"></div>
<i class="t-tab ct" style="top:388.92px;left:456.6px;width:300px;text-align:center;color:#0c0c0c;">History</i>
<div style="left:726px;top:385px;width:233px;height:15px;background:#ececec;border-top:1px solid #fff;border-left:1px solid #fff;border-right:1px solid #404040"></div>
<i class="t-tab ct" style="top:388.92px;left:691.6px;width:300px;text-align:center;color:#0c0c0c;">Notes</i>
<div style="left:0;top:400px;width:960px;height:12px;background:#000080"></div>
<i class="t-idx" style="top:402.65px;left:0.6px;color:#f2f2f2;">.postings.index/date</i>
<div class="wb" style="left:948px;top:402px;width:10px;height:10px;background:#e6e2da;border-right-color:#505050;border-bottom-color:#505050"></div>
<svg style="position:absolute;left:950px;top:404px" width="6" height="6" viewBox="0 0 6 6"><path d="M2 0.6h3.5v3h-1" stroke="#000" stroke-width="1" fill="none"/><path d="M1.6 0.5h4.2" stroke="#000" stroke-width="1.2"/><path d="M0.5 2.8h3.4v2.7h-3.4z" stroke="#000" stroke-width="1" fill="none"/><path d="M0.2 2.6h4" stroke="#000" stroke-width="1.2"/></svg>
<div style="left:2px;top:412.7px;width:866px;height:14.3px;background:#c8f3d8"></div>
<div style="left:2px;top:427px;width:866px;height:14px;background:#a8d2b8"></div>
<div style="left:44px;top:427px;width:80px;height:14px;background:#ffff00"></div>
<div style="left:2px;top:441px;width:866px;height:15px;background:#d8fce6"></div>
<div style="left:2px;top:456px;width:866px;height:14px;background:#c8f2d8"></div>
<div style="left:2px;top:470px;width:866px;height:14px;background:#d8fce6"></div>
<div style="left:2px;top:484px;width:866px;height:14px;background:#c8f2d8"></div>
<div style="left:2px;top:498px;width:866px;height:15px;background:#d8fce6"></div>
<div style="left:2px;top:427px;width:866px;height:1px;background:#6f9f84"></div>
<div style="left:2px;top:428px;width:866px;height:1px;background:#e6fff0;opacity:.6"></div>
<div style="left:2px;top:441px;width:866px;height:1px;background:#7fae94"></div>
<div style="left:2px;top:442px;width:866px;height:1px;background:#e6fff0;opacity:.6"></div>
<div style="left:2px;top:456px;width:866px;height:1px;background:#7fae94"></div>
<div style="left:2px;top:457px;width:866px;height:1px;background:#e6fff0;opacity:.6"></div>
<div style="left:2px;top:470px;width:866px;height:1px;background:#7fae94"></div>
<div style="left:2px;top:471px;width:866px;height:1px;background:#e6fff0;opacity:.6"></div>
<div style="left:2px;top:484px;width:866px;height:1px;background:#7fae94"></div>
<div style="left:2px;top:485px;width:866px;height:1px;background:#e6fff0;opacity:.6"></div>
<div style="left:2px;top:498px;width:866px;height:1px;background:#7fae94"></div>
<div style="left:2px;top:499px;width:866px;height:1px;background:#e6fff0;opacity:.6"></div>
<div style="left:2px;top:412.7px;width:1px;height:100.30000000000001px;background:#7fae94"></div>
<div style="left:3px;top:412.7px;width:1px;height:14.3px;background:#e6fff0;opacity:.7"></div>
<div style="left:44px;top:412.7px;width:1px;height:100.30000000000001px;background:#7fae94"></div>
<div style="left:45px;top:412.7px;width:1px;height:14.3px;background:#e6fff0;opacity:.7"></div>
<div style="left:124px;top:412.7px;width:1px;height:100.30000000000001px;background:#7fae94"></div>
<div style="left:125px;top:412.7px;width:1px;height:14.3px;background:#e6fff0;opacity:.7"></div>
<div style="left:178px;top:412.7px;width:1px;height:100.30000000000001px;background:#7fae94"></div>
<div style="left:179px;top:412.7px;width:1px;height:14.3px;background:#e6fff0;opacity:.7"></div>
<div style="left:243px;top:412.7px;width:1px;height:100.30000000000001px;background:#7fae94"></div>
<div style="left:244px;top:412.7px;width:1px;height:14.3px;background:#e6fff0;opacity:.7"></div>
<div style="left:323px;top:412.7px;width:1px;height:100.30000000000001px;background:#7fae94"></div>
<div style="left:324px;top:412.7px;width:1px;height:14.3px;background:#e6fff0;opacity:.7"></div>
<div style="left:372px;top:412.7px;width:1px;height:100.30000000000001px;background:#7fae94"></div>
<div style="left:373px;top:412.7px;width:1px;height:14.3px;background:#e6fff0;opacity:.7"></div>
<div style="left:557px;top:412.7px;width:1px;height:100.30000000000001px;background:#7fae94"></div>
<div style="left:558px;top:412.7px;width:1px;height:14.3px;background:#e6fff0;opacity:.7"></div>
<div style="left:637px;top:412.7px;width:1px;height:100.30000000000001px;background:#7fae94"></div>
<div style="left:638px;top:412.7px;width:1px;height:14.3px;background:#e6fff0;opacity:.7"></div>
<div style="left:723px;top:412.7px;width:1px;height:100.30000000000001px;background:#7fae94"></div>
<div style="left:724px;top:412.7px;width:1px;height:14.3px;background:#e6fff0;opacity:.7"></div>
<div style="left:804px;top:412.7px;width:1px;height:100.30000000000001px;background:#7fae94"></div>
<div style="left:805px;top:412.7px;width:1px;height:14.3px;background:#e6fff0;opacity:.7"></div>
<div style="left:868px;top:412.7px;width:1px;height:15px;background:#7fae94"></div>
<i class="t-hdr" style="top:414.97px;left:3.6px;">Line</i>
<i class="t-hdr" style="top:414.97px;left:47px;">Account</i>
<i class="t-hdr" style="top:414.97px;left:127px;">Tags</i>
<i class="t-hdr" style="top:414.97px;left:181px;">Date  v</i>
<i class="t-hdr" style="top:414.97px;left:246px;">Journal</i>
<i class="t-hdr" style="top:414.97px;left:326px;">Ref #</i>
<i class="t-hdr" style="top:414.97px;left:375px;">Comment</i>
<i class="t-hdr" style="top:414.97px;left:560px;">Amount</i>
<i class="t-hdr" style="top:414.97px;left:640px;">Amount Total</i>
<i class="t-hdr" style="top:414.97px;left:726px;">Cross Account</i>
<i class="t-hdr" style="top:414.97px;left:807px;">Reconcile</i>
<i class="t-cell" style="top:429.77px;left:2.3px;">1</i>
<i class="t-caps" style="top:429.77px;left:44.7px;">JJ-EI</i>
<i class="t-cell" style="top:429.77px;left:124.8px;">financial</i>
<i class="t-cell" style="top:429.77px;left:179.2px;">13Jan2006</i>
<i class="t-caps" style="top:429.77px;left:243.8px;">CANADA</i>
<i class="t-cell" style="top:429.77px;left:324.2px;">6004</i>
<i class="t-cell" style="top:429.77px;left:372.6px;">E.I.</i>
<i class="t-cell" style="top:429.77px;left:400.4px;">YTD =</i>
<i class="t-cell rt" style="top:429.77px;right:496.4px;">27.23</i>
<i class="t-cell rt" style="top:429.77px;right:327.29999999999995px;">27.23</i>
<i class="t-cell rt" style="top:429.77px;right:241.29999999999995px;">27.23</i>
<i class="t-cell" style="top:429.77px;left:724.2px;">1065</i>
<i class="t-cell" style="top:444.07px;left:2.3px;">2</i>
<i class="t-caps" style="top:444.07px;left:44.7px;">JJ-EI</i>
<i class="t-cell" style="top:444.07px;left:124.8px;">financial</i>
<i class="t-cell" style="top:444.07px;left:179.2px;">27Jan2006</i>
<i class="t-caps" style="top:444.07px;left:243.8px;">CANADA</i>
<i class="t-cell" style="top:444.07px;left:324.2px;">6009</i>
<i class="t-cell" style="top:444.07px;left:372.6px;">E.I.</i>
<i class="t-cell" style="top:444.07px;left:400.4px;">YTD =</i>
<i class="t-cell rt" style="top:444.07px;right:496.4px;">55.22</i>
<i class="t-cell rt" style="top:444.07px;right:327.29999999999995px;">27.99</i>
<i class="t-cell rt" style="top:444.07px;right:241.29999999999995px;">55.22</i>
<i class="t-cell" style="top:444.07px;left:724.2px;">1065</i>
<i class="t-cell" style="top:458.37px;left:2.3px;">3</i>
<i class="t-caps" style="top:458.37px;left:44.7px;">JJ-EI</i>
<i class="t-cell" style="top:458.37px;left:124.8px;">financial</i>
<i class="t-cell" style="top:458.37px;left:179.2px;">10Feb2006</i>
<i class="t-caps" style="top:458.37px;left:243.8px;">CANADA</i>
<i class="t-cell" style="top:458.37px;left:324.2px;">6014</i>
<i class="t-cell" style="top:458.37px;left:372.6px;">E.I.</i>
<i class="t-cell" style="top:458.37px;left:400.4px;">YTD =</i>
<i class="t-cell rt" style="top:458.37px;right:496.4px;">81.77</i>
<i class="t-cell rt" style="top:458.37px;right:327.29999999999995px;">26.55</i>
<i class="t-cell rt" style="top:458.37px;right:241.29999999999995px;">81.77</i>
<i class="t-cell" style="top:458.37px;left:724.2px;">1065</i>
<i class="t-cell" style="top:472.67px;left:2.3px;">4</i>
<i class="t-caps" style="top:472.67px;left:44.7px;">JJ-EI</i>
<i class="t-cell" style="top:472.67px;left:124.8px;">financial</i>
<i class="t-cell" style="top:472.67px;left:179.2px;">24Feb2006</i>
<i class="t-caps" style="top:472.67px;left:243.8px;">CANADA</i>
<i class="t-cell" style="top:472.67px;left:324.2px;">6018</i>
<i class="t-cell" style="top:472.67px;left:372.6px;">E.I.</i>
<i class="t-cell" style="top:472.67px;left:400.4px;">YTD =</i>
<i class="t-cell rt" style="top:472.67px;right:496.4px;">110.02</i>
<i class="t-cell rt" style="top:472.67px;right:327.29999999999995px;">28.25</i>
<i class="t-cell rt" style="top:472.67px;right:241.29999999999995px;">110.02</i>
<i class="t-cell" style="top:472.67px;left:724.2px;">1065</i>
<i class="t-cell" style="top:486.97px;left:2.3px;">5</i>
<i class="t-caps" style="top:486.97px;left:44.7px;">JJ-EI</i>
<i class="t-cell" style="top:486.97px;left:124.8px;">financial</i>
<i class="t-cell" style="top:486.97px;left:179.2px;">10Mar2006</i>
<i class="t-caps" style="top:486.97px;left:243.8px;">CANADA</i>
<i class="t-cell" style="top:486.97px;left:324.2px;">6022</i>
<i class="t-cell" style="top:486.97px;left:372.6px;">E.I.</i>
<i class="t-cell" style="top:486.97px;left:400.4px;">YTD =</i>
<i class="t-cell rt" style="top:486.97px;right:496.4px;">136.55</i>
<i class="t-cell rt" style="top:486.97px;right:327.29999999999995px;">26.53</i>
<i class="t-cell rt" style="top:486.97px;right:241.29999999999995px;">136.55</i>
<i class="t-cell" style="top:486.97px;left:724.2px;">1065</i>
<i class="t-cell" style="top:501.27px;left:2.3px;">6</i>
<i class="t-caps" style="top:501.27px;left:44.7px;">JJ-EI</i>
<i class="t-cell" style="top:501.27px;left:124.8px;">financial</i>
<i class="t-cell" style="top:501.27px;left:179.2px;">24Mar2006</i>
<i class="t-caps" style="top:501.27px;left:243.8px;">CANADA</i>
<i class="t-cell" style="top:501.27px;left:324.2px;">6026</i>
<i class="t-cell" style="top:501.27px;left:372.6px;">E.I.</i>
<i class="t-cell" style="top:501.27px;left:400.4px;">YTD =</i>
<i class="t-cell rt" style="top:501.27px;right:496.4px;">166.46</i>
<i class="t-cell rt" style="top:501.27px;right:327.29999999999995px;">29.91</i>
<i class="t-cell rt" style="top:501.27px;right:241.29999999999995px;">166.46</i>
<i class="t-cell" style="top:501.27px;left:724.2px;">1065</i>
<div style="left:45px;top:430px;width:3px;height:10px;background:#000"></div>
<div style="left:0;top:412px;width:870px;height:104px;border:3px solid #e01414;border-left-width:2px;background:transparent"></div>
<div style="left:0;top:516px;width:1px;height:10px;background:#202020"></div>
<div style="left:958px;top:177px;width:2px;height:349px;background:#181818"></div>
<div style="left:0;top:359px;width:1px;height:41px;background:#303030"></div>
</div></body></html>
